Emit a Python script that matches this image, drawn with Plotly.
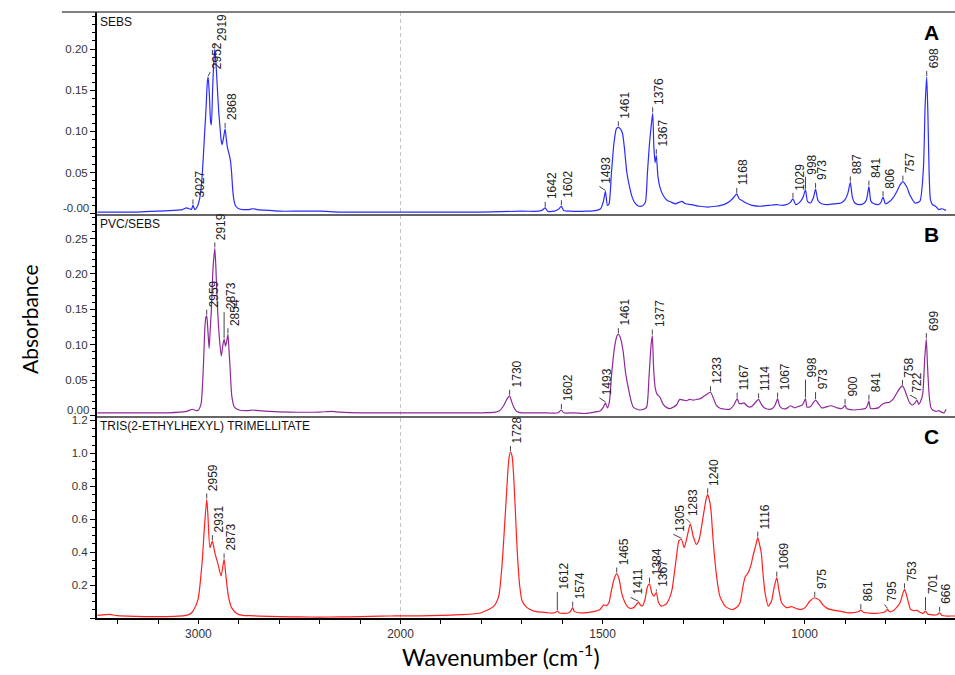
import numpy as np
import plotly.graph_objects as go
from plotly.subplots import make_subplots

# ---------------- data (wavenumber cm-1, absorbance) ----------------
SEBS_SPECTRUM = [
    (3500, 0.002), (3400, 0.002), (3300, 0.002), (3200, 0.003), (3120, 0.004), (3080, 0.005),
    (3060, 0.007), (3045, 0.006), (3035, 0.005), (3027, 0.010), (3018, 0.005), (3005, 0.009),
    (2995, 0.017), (2985, 0.035), (2978, 0.060), (2970, 0.095), (2962, 0.130), (2956, 0.160),
    (2952, 0.166), (2946, 0.145), (2940, 0.112), (2936, 0.108), (2930, 0.150), (2925, 0.180),
    (2919, 0.200), (2913, 0.182), (2908, 0.160), (2900, 0.125), (2895, 0.110), (2888, 0.090),
    (2883, 0.084), (2876, 0.092), (2868, 0.103), (2862, 0.090), (2856, 0.080), (2848, 0.072),
    (2842, 0.065), (2836, 0.050), (2830, 0.028), (2824, 0.016), (2815, 0.009), (2800, 0.006),
    (2780, 0.005), (2750, 0.005), (2730, 0.006), (2710, 0.005), (2650, 0.004), (2600, 0.003),
    (2500, 0.003), (2400, 0.003), (2300, 0.002), (2200, 0.002), (2100, 0.002), (2000, 0.002),
    (1950, 0.002), (1900, 0.002), (1800, 0.002), (1700, 0.003), (1660, 0.003), (1650, 0.004),
    (1642, 0.007), (1636, 0.003), (1620, 0.003), (1610, 0.005), (1602, 0.009), (1596, 0.004),
    (1580, 0.003), (1540, 0.003), (1515, 0.004), (1505, 0.006), (1498, 0.015), (1493, 0.027),
    (1488, 0.010), (1484, 0.012), (1478, 0.050), (1472, 0.085), (1466, 0.103), (1461, 0.105),
    (1456, 0.103), (1451, 0.098), (1446, 0.080), (1440, 0.050), (1434, 0.034), (1428, 0.022),
    (1420, 0.013), (1410, 0.009), (1400, 0.010), (1394, 0.014), (1389, 0.050), (1384, 0.085),
    (1379, 0.110), (1376, 0.122), (1373, 0.080), (1370, 0.062), (1367, 0.071), (1363, 0.045),
    (1358, 0.032), (1350, 0.022), (1340, 0.016), (1330, 0.014), (1320, 0.012), (1310, 0.014),
    (1304, 0.015), (1295, 0.012), (1280, 0.011), (1260, 0.009), (1240, 0.008), (1220, 0.009),
    (1200, 0.011), (1185, 0.015), (1175, 0.020), (1168, 0.024), (1162, 0.018), (1155, 0.016),
    (1145, 0.013), (1130, 0.010), (1110, 0.009), (1090, 0.010), (1070, 0.011), (1055, 0.010),
    (1040, 0.012), (1035, 0.014), (1029, 0.018), (1022, 0.011), (1012, 0.014), (1004, 0.020),
    (998, 0.029), (993, 0.015), (986, 0.013), (978, 0.020), (973, 0.030), (967, 0.016),
    (958, 0.012), (945, 0.011), (925, 0.012), (910, 0.013), (900, 0.017), (893, 0.025),
    (887, 0.038), (882, 0.020), (876, 0.013), (865, 0.011), (855, 0.012), (847, 0.017),
    (841, 0.033), (836, 0.015), (828, 0.012), (818, 0.011), (812, 0.013), (806, 0.020),
    (800, 0.012), (789, 0.015), (780, 0.020), (772, 0.027), (764, 0.035), (757, 0.039),
    (747, 0.032), (739, 0.022), (727, 0.013), (715, 0.015), (706, 0.057), (702, 0.130),
    (698, 0.166), (695, 0.120), (692, 0.050), (689, 0.018), (684, 0.011), (676, 0.009),
    (668, 0.005), (660, 0.006), (650, 0.004),
]

PVC_SEBS_SPECTRUM = [
    (3500, 0.004), (3300, 0.004), (3150, 0.004), (3060, 0.006), (3030, 0.009), (3010, 0.007),
    (3000, 0.008), (2992, 0.012), (2986, 0.018), (2981, 0.037), (2974, 0.080), (2968, 0.125),
    (2963, 0.139), (2959, 0.141), (2955, 0.128), (2951, 0.110), (2947, 0.095), (2942, 0.120),
    (2936, 0.150), (2928, 0.207), (2919, 0.236), (2914, 0.211), (2907, 0.160), (2897, 0.112),
    (2887, 0.084), (2880, 0.098), (2873, 0.108), (2866, 0.098), (2860, 0.105), (2854, 0.115),
    (2849, 0.094), (2843, 0.065), (2835, 0.028), (2822, 0.012), (2800, 0.008), (2760, 0.007),
    (2730, 0.008), (2700, 0.007), (2650, 0.006), (2550, 0.005), (2400, 0.005), (2340, 0.006),
    (2300, 0.005), (2200, 0.004), (2100, 0.004), (2000, 0.004),
    (1900, 0.004), (1800, 0.004), (1765, 0.005), (1755, 0.007), (1745, 0.014), (1736, 0.024),
    (1730, 0.028), (1724, 0.018), (1718, 0.010), (1712, 0.006), (1700, 0.004), (1650, 0.004),
    (1610, 0.004), (1602, 0.008), (1596, 0.004), (1570, 0.004), (1545, 0.003), (1520, 0.005),
    (1505, 0.007), (1498, 0.012), (1493, 0.018), (1488, 0.011), (1483, 0.020), (1478, 0.056),
    (1470, 0.098), (1464, 0.113), (1461, 0.115), (1455, 0.108), (1449, 0.090), (1443, 0.060),
    (1436, 0.038), (1430, 0.022), (1424, 0.012), (1415, 0.009), (1408, 0.008), (1398, 0.009),
    (1391, 0.012), (1385, 0.056), (1380, 0.100), (1377, 0.113), (1374, 0.070), (1370, 0.040),
    (1365, 0.030), (1358, 0.026), (1350, 0.016), (1340, 0.011), (1333, 0.010), (1325, 0.012),
    (1317, 0.015), (1309, 0.023), (1300, 0.022), (1292, 0.021), (1285, 0.023), (1276, 0.022),
    (1266, 0.023), (1258, 0.024), (1248, 0.028), (1240, 0.031), (1233, 0.033), (1226, 0.025),
    (1218, 0.014), (1208, 0.010), (1195, 0.009), (1185, 0.009), (1175, 0.015), (1167, 0.024),
    (1162, 0.017), (1157, 0.017), (1150, 0.018), (1143, 0.014), (1135, 0.012), (1127, 0.015),
    (1120, 0.020), (1114, 0.023), (1108, 0.017), (1100, 0.011), (1090, 0.009), (1080, 0.010),
    (1073, 0.015), (1067, 0.024), (1062, 0.014), (1055, 0.010), (1045, 0.010), (1035, 0.014),
    (1025, 0.011), (1015, 0.013), (1006, 0.015), (1002, 0.019), (998, 0.024), (994, 0.012),
    (985, 0.013), (979, 0.018), (973, 0.022), (966, 0.017), (958, 0.011), (948, 0.012),
    (935, 0.014), (920, 0.011), (910, 0.010), (905, 0.011), (900, 0.015), (896, 0.010),
    (880, 0.008), (860, 0.009), (850, 0.010), (845, 0.014), (841, 0.021), (837, 0.010),
    (828, 0.010), (818, 0.011), (808, 0.016), (800, 0.018), (790, 0.019), (780, 0.024),
    (772, 0.032), (764, 0.039), (758, 0.042), (752, 0.036), (746, 0.026), (740, 0.018),
    (733, 0.015), (727, 0.018), (722, 0.022), (718, 0.016), (714, 0.019), (708, 0.030),
    (703, 0.080), (699, 0.108), (696, 0.070), (692, 0.030), (688, 0.012), (683, 0.008),
    (675, 0.006), (668, 0.007), (662, 0.005), (655, 0.004), (650, 0.009),
]

TOTM_SPECTRUM = [
    (3500, 0.016), (3460, 0.020), (3440, 0.022), (3400, 0.014), (3300, 0.010), (3200, 0.008),
    (3120, 0.010), (3070, 0.014), (3045, 0.022), (3027, 0.042), (3002, 0.113), (2982, 0.336),
    (2970, 0.558), (2959, 0.720), (2953, 0.620), (2943, 0.427), (2931, 0.467), (2919, 0.397),
    (2903, 0.326), (2888, 0.255), (2873, 0.356), (2864, 0.255), (2852, 0.133), (2836, 0.063),
    (2811, 0.028), (2780, 0.016), (2750, 0.014), (2650, 0.010), (2550, 0.007), (2450, 0.006),
    (2350, 0.006), (2250, 0.007), (2150, 0.010), (2050, 0.012), (2000, 0.013),
    (1950, 0.013), (1900, 0.016), (1850, 0.020), (1800, 0.032), (1769, 0.072), (1757, 0.133),
    (1749, 0.315), (1740, 0.660), (1732, 0.963), (1728, 1.008), (1724, 0.984), (1720, 0.862),
    (1716, 0.660), (1711, 0.397), (1705, 0.194), (1699, 0.103), (1687, 0.063), (1670, 0.042),
    (1637, 0.032), (1625, 0.030), (1617, 0.033), (1612, 0.042), (1607, 0.030), (1595, 0.028),
    (1583, 0.032), (1578, 0.045), (1574, 0.063), (1570, 0.040), (1560, 0.032), (1540, 0.033),
    (1520, 0.040), (1507, 0.050), (1497, 0.080), (1490, 0.075), (1484, 0.095), (1478, 0.170),
    (1471, 0.240), (1465, 0.270), (1459, 0.234), (1453, 0.154), (1445, 0.095), (1438, 0.068),
    (1431, 0.058), (1422, 0.065), (1417, 0.080), (1411, 0.095), (1406, 0.078), (1401, 0.074),
    (1395, 0.113), (1389, 0.190), (1384, 0.208), (1378, 0.150), (1373, 0.133), (1367, 0.155),
    (1362, 0.095), (1355, 0.072), (1345, 0.080), (1340, 0.093), (1333, 0.130), (1328, 0.174),
    (1318, 0.356), (1311, 0.470), (1305, 0.478), (1298, 0.427), (1292, 0.480), (1283, 0.572),
    (1276, 0.498), (1268, 0.447), (1261, 0.478), (1251, 0.619), (1244, 0.720), (1240, 0.751),
    (1236, 0.720), (1232, 0.660), (1226, 0.457), (1218, 0.255), (1210, 0.133), (1197, 0.072),
    (1185, 0.055), (1177, 0.052), (1168, 0.065), (1160, 0.093), (1152, 0.200), (1147, 0.250),
    (1140, 0.275), (1133, 0.320), (1128, 0.376), (1121, 0.440), (1116, 0.488), (1111, 0.440),
    (1107, 0.390), (1104, 0.295), (1098, 0.154), (1090, 0.072), (1082, 0.103), (1076, 0.180),
    (1069, 0.245), (1064, 0.174), (1057, 0.093), (1045, 0.063), (1032, 0.069), (1018, 0.055),
    (1008, 0.052), (999, 0.063), (987, 0.103), (975, 0.123), (970, 0.118), (962, 0.105),
    (956, 0.083), (945, 0.060), (930, 0.048), (910, 0.040), (896, 0.032), (880, 0.033),
    (868, 0.038), (861, 0.048), (855, 0.035), (840, 0.030), (825, 0.028), (810, 0.032),
    (800, 0.040), (795, 0.052), (790, 0.038), (782, 0.042), (774, 0.060), (764, 0.093),
    (758, 0.140), (753, 0.174), (748, 0.140), (743, 0.093), (738, 0.052), (730, 0.045),
    (722, 0.046), (715, 0.035), (707, 0.028), (701, 0.042), (696, 0.025), (688, 0.020),
    (680, 0.018), (672, 0.020), (666, 0.032), (660, 0.015), (650, 0.012), (640, 0.012),
    (628, 0.012),
]

SEBS_PEAKS = [3027, 2952, 2919, 2868, 1642, 1602, 1493, 1461, 1376, 1367, 1168, 1029, 998,
              973, 887, 841, 806, 757, 698]
PVC_SEBS_PEAKS = [2959, 2919, 2873, 2854, 1730, 1602, 1493, 1461, 1377, 1233, 1167, 1114,
                  1067, 998, 973, 900, 841, 758, 722, 699]
TOTM_PEAKS = [2959, 2931, 2873, 1728, 1612, 1574, 1465, 1411, 1384, 1367, 1305, 1283, 1240,
              1116, 1069, 975, 861, 795, 753, 701, 666]

PANEL_NAMES = ["SEBS", "PVC/SEBS", "TRIS(2-ETHYLHEXYL) TRIMELLITATE"]
PANEL_LETTERS = ["A", "B", "C"]
X_TICK_LABELS = [3000, 2000, 1500, 1000]
Y_TICKS = [
    [0.05, 0.10, 0.15, 0.20],
    [0.05, 0.10, 0.15, 0.20, 0.25],
    [0.2, 0.4, 0.6, 0.8, 1.0, 1.2],
]
Y_TICK_TEXT = [
    ["0.05", "0.10", "0.15", "0.20"],
    ["0.05", "0.10", "0.15", "0.20", "0.25"],
    ["0.2", "0.4", "0.6", "0.8", "1.0", "1.2"],
]
Y_ZERO_TEXT = ["-0.00", "0.00", None]

# ---------------- styling ----------------
COLORS = ["#2b2bff", "#8e2a98", "#ff2020"]
Y_RANGES = [[-0.0004, 0.2451], [-0.0005, 0.2846], [0.0, 1.227]]
Y_MINOR = [0.01, 0.01, 0.05]
LABEL_FONT = dict(family="Liberation Sans, Arial, sans-serif", size=12, color="#222")
# per-label leader line tweaks: (panel, wavenumber) -> (line length px, dx px)
LEADER = {
    (0, 998): (13, 0), (0, 1493): (5, -6), (0, 2952): (5, 2),
    (1, 2873): (27, 0), (1, 998): (19, 0), (1, 973): (8, 0), (1, 1493): (5, -6),
    (1, 722): (5, -7),
    (2, 1612): (19, 0), (2, 701): (14, 0), (2, 1411): (5, -8), (2, 1305): (5, -8),
    (2, 1283): (5, -4), (2, 795): (5, -3), (2, 1367): (3, 0),
}


def to_axis(w):
    """Display scale used by the instrument: 2x compressed above 2000 cm-1."""
    w = np.asarray(w, dtype=float)
    return np.where(w > 2000, 2000 + (w - 2000) / 2.0, w)


spectra = [SEBS_SPECTRUM, PVC_SEBS_SPECTRUM, TOTM_SPECTRUM]
peaks = [SEBS_PEAKS, PVC_SEBS_PEAKS, TOTM_PEAKS]

fig = make_subplots(rows=3, cols=1, shared_xaxes=True, vertical_spacing=0)

annotations = []
shapes = []

for i, (spec, pk) in enumerate(zip(spectra, peaks)):
    wn = np.array([p[0] for p in spec], dtype=float)
    ab = np.array([p[1] for p in spec], dtype=float)
    fig.add_trace(
        go.Scatter(x=to_axis(wn), y=ab, mode="lines",
                   line=dict(color=COLORS[i], width=1.2, shape="spline", smoothing=0.6),
                   showlegend=False, hoverinfo="skip"),
        row=i + 1, col=1,
    )
    xref = "x" if i == 0 else f"x{i + 1}"
    yref = "y" if i == 0 else f"y{i + 1}"
    order = np.argsort(wn)
    for w in pk:
        val = float(np.interp(w, wn[order], ab[order]))
        lift, dx = LEADER.get((i, w), (6, 0))
        xa = float(to_axis(w))
        shapes.append(dict(type="line", xref=xref, yref=yref,
                           xsizemode="pixel", xanchor=xa, x0=0, x1=dx,
                           ysizemode="pixel", yanchor=val, y0=1, y1=lift,
                           line=dict(color="#444", width=1)))
        annotations.append(dict(x=xa, y=val, xref=xref, yref=yref, text=str(w),
                                textangle=-90, showarrow=False, xanchor="center",
                                yanchor="bottom", xshift=7 + dx, yshift=lift + 0.5,
                                font=LABEL_FONT))
    # panel names and letters
    annotations.append(dict(x=0, y=1, xref="paper", yref=f"{yref} domain", text=PANEL_NAMES[i],
                            showarrow=False, xanchor="left", yanchor="top", xshift=1, yshift=-1,
                            font=dict(family="Liberation Sans, Arial, sans-serif", size=12,
                                      color="#111")))
    annotations.append(dict(x=0.973, y=0.9, xref="paper", yref=f"{yref} domain",
                            text=f"<b>{PANEL_LETTERS[i]}</b>", showarrow=False,
                            xanchor="center", yanchor="middle",
                            font=dict(family="Liberation Sans, Arial, sans-serif", size=21,
                                      color="black")))
    if Y_ZERO_TEXT[i]:
        annotations.append(dict(x=0, y=0, xref="paper", yref=yref, text=Y_ZERO_TEXT[i],
                                showarrow=False, xanchor="right", yanchor="middle",
                                xshift=-6, yshift=6,
                                font=dict(family="Liberation Sans, Arial, sans-serif",
                                          size=11.5, color="#333")))

    fig.update_yaxes(
        row=i + 1, col=1, range=Y_RANGES[i],
        tickmode="array", tickvals=[0.0] + Y_TICKS[i], ticktext=[" "] + Y_TICK_TEXT[i],
        ticks="outside", ticklen=5, tickwidth=1, tickcolor="black",
        minor=dict(ticks="outside", ticklen=3, tickwidth=1, tickcolor="black",
                   tickmode="linear", tick0=0, dtick=Y_MINOR[i]),
        showline=True, linecolor="black", linewidth=2,
        showgrid=False, zeroline=False,
        tickfont=dict(family="Liberation Sans, Arial, sans-serif", size=11.5, color="#333"),
    )

# x axes
x_minor_wn = list(range(700, 2000, 100)) + list(range(2000, 3500, 200))
x_tickvals = [float(v) for v in to_axis(x_minor_wn)]
x_ticktext = [str(w) if w in X_TICK_LABELS else " " for w in x_minor_wn]
x_range = [2751, 628]
for r in (1, 2):
    fig.update_xaxes(row=r, col=1, range=x_range, showline=True, linecolor="#666",
                     linewidth=1.5, ticks="", showticklabels=False, showgrid=False,
                     zeroline=False)
fig.update_xaxes(row=3, col=1, range=x_range, showline=True, linecolor="black", linewidth=2,
                 ticks="outside", ticklen=4, tickwidth=1, tickcolor="black",
                 tickmode="array", tickvals=x_tickvals, ticktext=x_ticktext,
                 showticklabels=True, showgrid=False, zeroline=False,
                 tickfont=dict(family="Liberation Sans, Arial, sans-serif", size=12,
                               color="#333"))

# dashed marker of the scale change at 2000 cm-1
shapes.append(dict(type="line", xref="x", yref="paper", x0=float(to_axis(2000)),
                   x1=float(to_axis(2000)), y0=0, y1=1,
                   line=dict(color="#c4c4c4", width=1, dash="4px,3px"), layer="below"))
# top frame line
shapes.append(dict(type="line", xref="paper", yref="paper", x0=-0.041, x1=1, y0=1, y1=1,
                   line=dict(color="#555", width=1.5)))

# axis titles
annotations.append(dict(x=-0.078, y=0.492, xref="paper", yref="paper", text="Absorbance",
                        textangle=-90, showarrow=False, xanchor="center", yanchor="middle",
                        font=dict(family="Lato, Carlito, sans-serif", size=21, color="black")))
annotations.append(dict(x=0.471, y=-0.062, xref="paper", yref="paper",
                        text="Wavenumber (cm<sup>-1</sup>)",
                        showarrow=False, xanchor="center", yanchor="middle",
                        font=dict(family="Lato, Carlito, sans-serif", size=23, color="black")))

fig.update_layout(
    width=955, height=675,
    margin=dict(l=97, r=0, t=12, b=57),
    paper_bgcolor="white", plot_bgcolor="white",
    shapes=shapes, annotations=annotations,
    showlegend=False,
)

fig.write_html("out.html")
